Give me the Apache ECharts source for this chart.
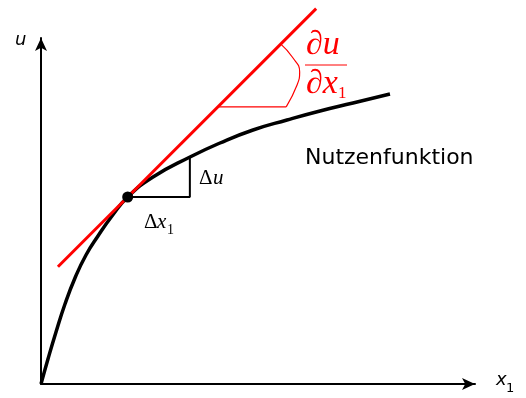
<!DOCTYPE html>
<html>
<head>
<meta charset="utf-8">
<style>
  html, body { margin: 0; padding: 0; background: #fff; }
  #main { width: 526px; height: 398px; }
</style>
<script src="https://cdn.jsdelivr.net/npm/echarts@6/dist/echarts.min.js"></script>
</head>
<body>
<div id="main"></div>
<script>
// Nutzenfunktion u(x1) (x und u jeweils 0..100)
var curveX = [0, 1.61, 3.46, 5.53, 7.83, 10.37, 13.13, 16.36, 19.98, 25.81, 34.33, 41.24, 48.85, 56.68, 64.29, 71.89, 80.41];
var curveY = [0, 7.23, 15.03, 23.12, 30.64, 37.28, 42.77, 48.55, 54.05, 59.83, 65.61, 69.65, 73.41, 76.30, 78.90, 81.21, 83.82];

// Punkt und Tangente
var pointX = [19.98];
var pointY = [54.05];
var tangentX = [3.9, 63.4];
var tangentY = [33.9, 108.5];

// Steigungsdreieck (schwarz)
var deltaX = [19.98, 34.3, 34.3];
var deltaY = [54.05, 54.05, 65.6];

// Winkelmarke an der Tangente (rot)
var angleX = [40.6, 56.5];
var angleY = [80.1, 80.1];
var arcX = [56.5, 59.0, 59.6, 57.9, 55.2];
var arcY = [80.1, 86.4, 90.2, 94.5, 98.3];

function pairs(xs, ys) {
    var out = [];
    for (var i = 0; i < xs.length; i++) out.push([xs[i], ys[i]]);
    return out;
}

var serif = '"Liberation Serif", "DejaVu Serif", serif';
var sans = '"DejaVu Sans", sans-serif';

// einfacher Textbaustein fuer die Beschriftungen
function txt(x, y, s, size, family, italic, color) {
    return {
        type: 'text', left: x, top: y,
        style: {
            text: s, fontFamily: family, fontSize: size,
            fontStyle: italic ? 'italic' : 'normal', fill: color || '#000'
        }
    };
}

var chart = echarts.init(document.getElementById('main'));
var option = {
    animation: false,
    grid: { left: 41, top: 38, width: 434, height: 346 },
    xAxis: {
        type: 'value', min: 0, max: 100,
        axisLine: { show: true, symbol: ['none', 'arrow'], symbolSize: [9, 13],
            lineStyle: { color: '#000', width: 2 } },
        axisTick: { show: false }, axisLabel: { show: false }, splitLine: { show: false }
    },
    yAxis: {
        type: 'value', min: 0, max: 100,
        axisLine: { show: true, symbol: ['none', 'arrow'], symbolSize: [9, 13],
            lineStyle: { color: '#000', width: 2 } },
        axisTick: { show: false }, axisLabel: { show: false }, splitLine: { show: false }
    },
    series: [
        {
            type: 'line', data: pairs(curveX, curveY), smooth: 0.5, symbol: 'none',
            lineStyle: { color: '#000', width: 3.5 }, z: 3
        },
        {
            type: 'line', data: pairs(tangentX, tangentY), symbol: 'none', clip: false,
            lineStyle: { color: '#ff0000', width: 3 }, z: 4
        },
        {
            type: 'line', data: pairs(deltaX, deltaY), symbol: 'none',
            lineStyle: { color: '#000', width: 2 }, z: 2
        },
        {
            type: 'line', data: pairs(angleX, angleY), symbol: 'none',
            lineStyle: { color: '#ff0000', width: 1.2 }
        },
        {
            type: 'line', data: pairs(arcX, arcY), symbol: 'none', smooth: 0.5,
            lineStyle: { color: '#ff0000', width: 1.2 }
        },
        {
            type: 'scatter', data: pairs(pointX, pointY), symbolSize: 11,
            itemStyle: { color: '#000', opacity: 1 }, z: 5
        }
    ],
    graphic: [
        txt(15, 31, 'u', 18, sans, true),
        txt(496, 371, 'x', 18, sans, true),
        txt(506, 382, '1', 13, sans, false),
        txt(305, 147, 'Nutzenfunktion', 22, sans, false),
        txt(306, 28, '\u2202u', 34, serif, true, '#ff0000'),
        { type: 'line', shape: { x1: 305, y1: 65, x2: 347, y2: 65 }, style: { stroke: '#ff0000', lineWidth: 1 } },
        txt(306, 67, '\u2202x', 34, serif, true, '#ff0000'),
        txt(338, 85, '1', 17, serif, false, '#ff0000'),
        txt(199, 168, '\u0394', 21, serif, false),
        txt(213, 168, 'u', 21, serif, true),
        txt(144, 212, '\u0394', 21, serif, false),
        txt(157, 212, 'x', 21, serif, true),
        txt(167, 223, '1', 14, serif, false)
    ]
};
chart.setOption(option);
</script>
</body>
</html>
